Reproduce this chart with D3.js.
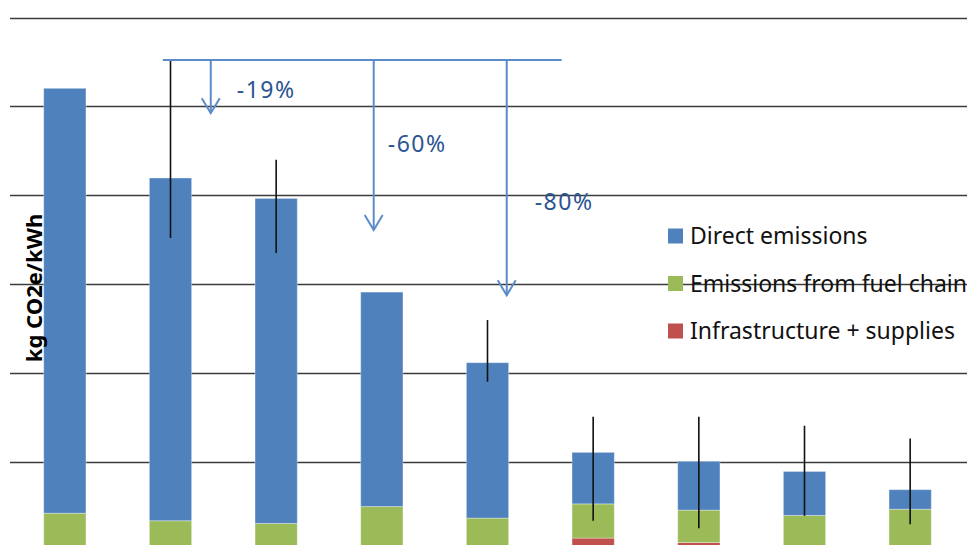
<!DOCTYPE html>
<html>
<head>
<meta charset="utf-8">
<script src="https://cdn.jsdelivr.net/npm/d3@7"></script>
<style>
  html, body { margin: 0; padding: 0; background: #fff; }
  svg { display: block; font-family: "Noto Sans", "Open Sans", sans-serif; }
</style>
</head>
<body>
<svg id="chart" width="967" height="545"></svg>
<script>
// bar values (kg CO2e/kWh)
const categories = ['c1', 'c2', 'c3', 'c4', 'c5', 'c6', 'c7', 'c8', 'c9'];
const direct = [0.957, 0.772, 0.732, 0.483, 0.350, 0.116, 0.110, 0.099, 0.044];
const fuelChain = [0.080, 0.063, 0.057, 0.095, 0.069, 0.077, 0.073, 0.072, 0.086];
const infra = [0.004, 0.004, 0.004, 0.004, 0.004, 0.028, 0.018, 0.007, 0.007];
// error ranges (null = no error bar)
const errLow = [null, 0.704, 0.670, null, 0.380, 0.067, 0.050, 0.078, 0.059];
const errHigh = [null, 1.107, 0.880, null, 0.519, 0.301, 0.301, 0.281, 0.252];
const yTicks = [0, 0.2, 0.4, 0.6, 0.8, 1.0, 1.2];
const seriesNames = ['Infrastructure + supplies', 'Emissions from fuel chain', 'Direct emissions'];
const seriesColors = ['#C0504D', '#9BBB59', '#4F81BD'];
const legendOrder = ['Direct emissions', 'Emissions from fuel chain', 'Infrastructure + supplies'];
// reduction annotation: bracket line and arrows (x as category index)
const bracket = { from: 0.927, to: 4.702, value: 1.105 };
const arrows = [
  { idx: 1.381, tip: 0.985, label: '-19%', lx: 1.627, ly: 1.019 },
  { idx: 2.923, tip: 0.722, label: '-60%', lx: 3.056, ly: 0.897 },
  { idx: 4.182, tip: 0.575, label: '-80%', lx: 4.447, ly: 0.767 }
];

const svg = d3.select('#chart');
const W = 967;

const x = d3.scaleBand()
  .domain(categories)
  .range([12, 963])
  .paddingInner(0.6)
  .paddingOuter(0.3);

const y = d3.scaleLinear().domain([0, 1.2]).range([550.5, 17.7]);

// index -> centre of band, for the annotations
const xi = d3.scaleLinear()
  .domain([0, categories.length - 1])
  .range([x(categories[0]) + x.bandwidth() / 2, x(categories[categories.length - 1]) + x.bandwidth() / 2]);

// gridlines
svg.append('g')
  .selectAll('line')
  .data(yTicks)
  .join('line')
  .attr('x1', 10)
  .attr('x2', W)
  .attr('y1', d => Math.round(y(d)) + 0.5)
  .attr('y2', d => Math.round(y(d)) + 0.5)
  .attr('stroke', '#3c3c3c')
  .attr('stroke-width', 1.3);

// stacked bars
const rows = categories.map((c, i) => ({
  cat: c,
  'Infrastructure + supplies': infra[i],
  'Emissions from fuel chain': fuelChain[i],
  'Direct emissions': direct[i]
}));
const stacked = d3.stack().keys(seriesNames)(rows);

svg.append('g')
  .selectAll('g')
  .data(stacked)
  .join('g')
  .attr('fill', (d, i) => seriesColors[i])
  .selectAll('rect')
  .data(d => d)
  .join('rect')
  .attr('x', d => x(d.data.cat))
  .attr('width', x.bandwidth())
  .attr('y', d => y(d[1]))
  .attr('height', d => y(d[0]) - y(d[1]))
  .attr('stroke', 'rgba(255,255,255,0.35)')
  .attr('stroke-width', 1);

// error bars
svg.append('g')
  .selectAll('line')
  .data(categories.map((c, i) => ({ c, lo: errLow[i], hi: errHigh[i] })).filter(d => d.lo !== null))
  .join('line')
  .attr('x1', d => x(d.c) + x.bandwidth() / 2)
  .attr('x2', d => x(d.c) + x.bandwidth() / 2)
  .attr('y1', d => y(d.hi))
  .attr('y2', d => y(d.lo))
  .attr('stroke', '#111')
  .attr('stroke-width', 1.6);

// annotation
const ann = svg.append('g')
  .attr('stroke', '#5B8BC9')
  .attr('stroke-width', 2)
  .attr('fill', 'none');

ann.append('line')
  .attr('x1', xi(bracket.from))
  .attr('x2', xi(bracket.to))
  .attr('y1', y(bracket.value))
  .attr('y2', y(bracket.value));

arrows.forEach(a => {
  const ax = xi(a.idx);
  const tipY = y(a.tip);
  ann.append('line')
    .attr('x1', ax).attr('x2', ax)
    .attr('y1', y(bracket.value)).attr('y2', tipY);
  ann.append('path')
    .attr('d', `M${ax - 9},${tipY - 15}L${ax},${tipY}L${ax + 9},${tipY - 15}`);
  svg.append('text')
    .attr('x', xi(a.lx))
    .attr('y', y(a.ly))
    .attr('fill', '#2B5591')
    .attr('font-size', 23)
    .attr('letter-spacing', 1.5)
    .text(a.label);
});

// legend
const legend = svg.append('g').attr('transform', 'translate(668,236)');
legendOrder.forEach((name, i) => {
  const g = legend.append('g').attr('transform', `translate(0,${i * 47.5})`);
  g.append('rect')
    .attr('x', 0).attr('y', -7.5)
    .attr('width', 15).attr('height', 15)
    .attr('fill', seriesColors[seriesNames.indexOf(name)]);
  g.append('text')
    .attr('x', 22)
    .attr('y', 8)
    .attr('font-size', 23)
    .attr('fill', '#111')
    .text(name);
});

// y axis title
svg.append('text')
  .attr('transform', 'translate(42,288) rotate(-90)')
  .attr('text-anchor', 'middle')
  .attr('font-size', 22)
  .attr('font-weight', 'bold')
  .attr('fill', '#000')
  .text('kg CO2e/kWh');
</script>
</body>
</html>
